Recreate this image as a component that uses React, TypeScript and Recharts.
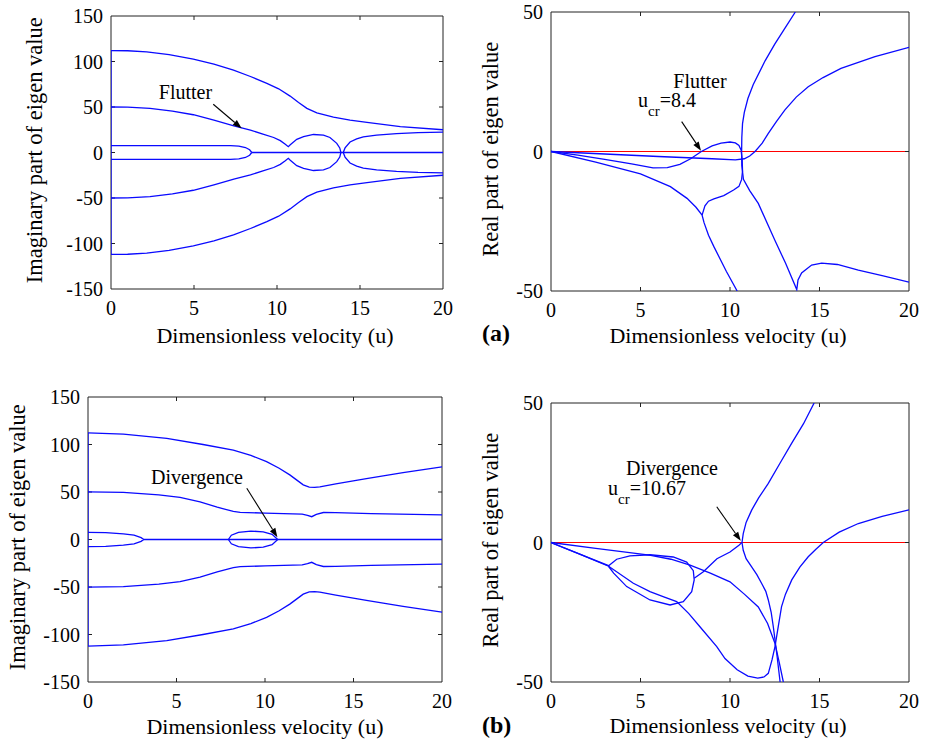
import React from "react";
import {
  LineChart,
  Line,
  XAxis,
  YAxis,
  ReferenceLine,
  ReferenceArea,
} from "recharts";

type P = [number, number][];

const xTicks = [0, 5, 10, 15, 20];
const imagTicks = [-150, -100, -50, 0, 50, 100, 150];
const realTicks = [-50, 0, 50];

// (a) imaginary part
const aImTop: P = [[0, 112], [1, 111.8], [2.15, 110.5], [3.5, 107.5], [4.96, 102.5], [6.2, 97], [7.38, 90.5], [8.4, 83.5], [9.39, 76], [10.1, 70], [10.79, 62], [11.3, 55], [11.8, 48.5], [12.4, 43.5], [13.4, 38.8], [14.4, 35.5], [15.42, 33], [17.43, 28.5], [20, 25]];
const aImBot: P = [[0, -112], [1, -111.8], [2.15, -110.5], [3.5, -107.5], [4.96, -102.5], [6.2, -97], [7.38, -90.5], [8.4, -83.5], [9.39, -76], [10.1, -70], [10.79, -62], [11.3, -55], [11.8, -48.5], [12.4, -43.5], [13.4, -38.8], [14.4, -35.5], [15.42, -33], [17.43, -28.5], [20, -25]];
const aImMid: P = [[0, 50], [1, 49.8], [2.35, 48.4], [3.7, 45.5], [4.96, 41.5], [6.2, 35.5], [7.4, 29.2], [8.4, 24.5], [9.2, 20], [9.8, 16.5], [10.2, 13], [10.5, 9], [10.68, 6.4], [10.8, 8.5], [11.19, 14.5], [11.6, 17.5], [12.2, 19.8], [12.8, 19], [13.19, 16.5], [13.6, 10.1], [13.78, 5], [13.85, 0]];
const aImMidNeg: P = [[0, -50], [1, -49.8], [2.35, -48.4], [3.7, -45.5], [4.96, -41.5], [6.2, -35.5], [7.4, -29.2], [8.4, -24.5], [9.2, -20], [9.8, -16.5], [10.2, -13], [10.5, -9], [10.68, -6.4], [10.8, -8.5], [11.19, -14.5], [11.6, -17.5], [12.2, -19.8], [12.8, -19], [13.19, -16.5], [13.6, -10.1], [13.78, -5], [13.85, 0]];
const aImLate: P = [[13.99, 0], [14.1, 5], [14.4, 11.5], [14.8, 15], [15.2, 17.2], [16, 19.2], [17.2, 20.8], [18.5, 21.8], [20, 22.3]];
const aImLateNeg: P = [[13.99, 0], [14.1, -5], [14.4, -11.5], [14.8, -15], [15.2, -17.2], [16, -19.2], [17.2, -20.8], [18.5, -21.8], [20, -22.3]];
const aImLow: P = [[0, 7.5], [3, 7.5], [6, 7.6], [7.2, 7.6], [7.7, 7], [8.1, 5.5], [8.35, 3], [8.48, 0]];
const aImLowNeg: P = [[0, -7.5], [3, -7.5], [6, -7.6], [7.2, -7.6], [7.7, -7], [8.1, -5.5], [8.35, -3], [8.48, 0]];
const aImZero: P = [[8.48, 0], [20, 0]];
const aImStart: P = [[0, -112], [0, 112]];

// (a) real part
const aReFlutter: P = [[0, 0], [1.5, -1.3], [3, -2.8], [4.5, -4.4], [5.7, -5.9], [6.5, -5.8], [7.2, -4.6], [7.8, -2.6], [8.4, 0], [9, 2], [9.5, 3], [10, 3.4], [10.3, 3.1], [10.5, 2.2], [10.62, 0.5], [10.68, -3], [10.7, -7], [10.65, -10], [10.5, -12.5], [10.2, -13.8], [9.65, -15.8], [9.1, -17], [8.8, -17.8], [8.6, -19.5], [8.44, -22.8]];
const aReSteep: P = [[0, 0], [2.5, -3.8], [5, -8], [6.67, -12.6], [7.6, -16.8], [8.1, -20], [8.44, -22.8], [8.55, -25.5], [8.8, -30], [9.1, -34.1], [9.8, -43], [10.4, -50]];
const aReFlat: P = [[0, 0], [3, -0.9], [6, -1.8], [9, -2.6], [10.3, -3], [10.8, -2.6], [11.1, -1.6], [11.4, 0], [11.8, 3], [12.14, 6.5], [12.6, 10.8], [13.07, 14.9], [13.7, 19.5], [14.37, 23.2], [15.2, 26.5], [16.2, 29.8], [18.1, 34], [20, 37.3]];
const aReCross: P = [[13.65, 50], [13, 43.5], [12.5, 38.5], [11.96, 32.5], [11.3, 24], [11, 19], [10.8, 14], [10.7, 10], [10.66, 5], [10.65, 0], [10.66, -5], [10.75, -10], [11.1, -14], [11.58, -18.6], [12.5, -31.7], [13.1, -40], [13.73, -49.5], [13.8, -46], [14, -43.5], [14.56, -40.7], [15.12, -40], [16, -40.5], [17.17, -42.5], [18.5, -44.5], [20, -46.8]];

// (b) imaginary part
const bImTop: P = [[0, 112.2], [2, 111], [4.45, 106.5], [6.5, 100], [8.21, 94], [9.2, 88.5], [10.09, 82], [10.8, 75], [11.4, 68], [11.8, 62.5], [12.16, 57.5], [12.5, 55.2], [12.8, 54.8], [13.1, 55.5], [14, 58.5], [15.73, 64], [17.8, 70.5], [20, 76.5]];
const bImBot: P = [[0, -112.2], [2, -111], [4.45, -106.5], [6.5, -100], [8.21, -94], [9.2, -88.5], [10.09, -82], [10.8, -75], [11.4, -68], [11.8, -62.5], [12.16, -57.5], [12.5, -55.2], [12.8, -54.8], [13.1, -55.5], [14, -58.5], [15.73, -64], [17.8, -70.5], [20, -76.5]];
const bImMid: P = [[0, 50.2], [2, 49.5], [4, 47], [5.2, 44.4], [6.33, 39.7], [7.3, 34], [8.21, 29.5], [8.6, 28.6], [10, 27.8], [12.1, 26.8], [12.4, 25.5], [12.64, 24], [12.9, 26.5], [13.3, 28.4], [14, 28.2], [16, 27.2], [20, 26]];
const bImMidNeg: P = [[0, -50.2], [2, -49.5], [4, -47], [5.2, -44.4], [6.33, -39.7], [7.3, -34], [8.21, -29.5], [8.6, -28.6], [10, -27.8], [12.1, -26.8], [12.4, -25.5], [12.64, -24], [12.9, -26.5], [13.3, -28.4], [14, -28.2], [16, -27.2], [20, -26]];
const bImLow: P = [[0, 7.5], [1, 7.3], [2, 6], [2.6, 4.5], [3, 2], [3.15, 0], [3, -2], [2.6, -4.5], [2, -6], [1, -7.3], [0, -7.5]];
const bImBubble: P = [[7.93, 0], [8.1, 4.5], [8.5, 7.5], [9.2, 8.9], [9.9, 8], [10.4, 5.5], [10.72, 0], [10.4, -5.5], [9.9, -8], [9.2, -8.9], [8.5, -7.5], [8.1, -4.5], [7.93, 0]];
const bImZero: P = [[3.15, 0], [20, 0]];
const bImStart: P = [[0, -112.2], [0, 112.2]];

// (b) real part
const bReUpper: P = [[0, 0], [2.5, -2.1], [5.5, -4.5], [6.7, -6], [7.77, -8.1], [8.9, -11], [10, -14.1], [10.8, -18.5], [11.58, -23.1], [12.1, -29], [12.51, -36.1], [12.75, -43], [12.98, -50]];
const bReLoop: P = [[0, 0], [3.22, -8.3], [3.67, -6], [4.41, -4.8], [5.53, -4.4], [6.83, -5.2], [7.58, -7], [7.95, -10.1], [8, -13.4], [7.86, -17.6], [7.39, -21.2], [6.65, -22.4], [5.53, -20.6], [4.23, -15.8], [3.5, -11], [3.22, -8.6]];
const bReLower: P = [[0, 0], [1.6, -4.2], [3.22, -8.5], [4.6, -14.6], [5.53, -17.6], [6.3, -19.5], [7.02, -21.2], [7.7, -25.5], [8.32, -30.2], [9.26, -37.3], [9.72, -41.6], [10.4, -45.6], [11, -47.9], [11.55, -48.6], [11.9, -48.2], [12.14, -46.9], [12.35, -42], [12.51, -37.4], [12.7, -30], [12.88, -23], [13.1, -18.5], [13.45, -13.4], [13.9, -8.8], [14.37, -5.1], [14.8, -2.4], [15.21, 0], [16.1, 3.7], [17.17, 6.8], [18.5, 9.4], [20, 11.7]];
const bReRise: P = [[8, -12.8], [8.51, -10.5], [9.27, -5.8], [10, -3.4], [10.5, -1], [10.67, 0], [10.74, 3.2], [10.9, 7.2], [11.21, 11.6], [11.6, 16], [12.14, 21.2], [12.8, 28.5], [13.45, 35.6], [14.1, 42.5], [14.7, 50]];
const bReFall: P = [[10.67, 0], [10.74, -2.8], [10.9, -5.8], [11.21, -8.7], [11.5, -11.5], [11.77, -14.7], [12, -17.5], [12.14, -20.6], [12.3, -25], [12.42, -30.2], [12.61, -39.7], [12.8, -50]];

const pts = (a: P) => a.map(([u, v]) => ({ u, v }));

const FONT = "'Liberation Serif', serif";
const BLUE = "#0a0aff";
const EDGE = "#222";

const ArrowShape = (props: any) => {
  const { x1, y1, x2, y2 } = props;
  const ang = Math.atan2(y2 - y1, x2 - x1);
  const L = 9;
  const W = 3.2;
  const bx = x2 - L * Math.cos(ang);
  const by = y2 - L * Math.sin(ang);
  const p1 = `${bx - W * Math.sin(ang)},${by + W * Math.cos(ang)}`;
  const p2 = `${bx + W * Math.sin(ang)},${by - W * Math.cos(ang)}`;
  return (
    <g>
      <line x1={x1} y1={y1} x2={bx} y2={by} stroke="#000" strokeWidth={1.1} />
      <polygon points={`${x2},${y2} ${p1} ${p2}`} fill="#000" />
    </g>
  );
};

interface PanelProps {
  left: number;
  top: number;
  width: number;
  height: number;
  plot: [number, number, number, number];
  yDomain: [number, number];
  yTicks: number[];
  blue: P[];
  redZero?: boolean;
  arrow: [[number, number], [number, number]];
}

function Panel({ left, top, width, height, plot, yDomain, yTicks, blue, redZero, arrow }: PanelProps) {
  const [x0, y0, x1, y1] = plot;
  const pxY = (yDomain[1] - yDomain[0]) / (y1 - y0);
  const tlY = 4 * pxY;
  const tlX = (4 * 20) / (x1 - x0);
  const tickStyle = { fontSize: 20, fill: "#000", fontFamily: FONT };
  return (
    <div style={{ position: "absolute", left, top, width, height }}>
      <LineChart
        width={width}
        height={height}
        margin={{ top: y0, right: width - x1, left: 0, bottom: height - y1 - 40 }}
      >
        <XAxis
          dataKey="u"
          type="number"
          domain={[0, 20]}
          ticks={xTicks}
          interval={0}
          allowDataOverflow
          axisLine={false}
          tickLine={false}
          tickSize={6}
          tickMargin={6}
          height={40}
          tick={tickStyle}
        />
        <YAxis
          dataKey="v"
          type="number"
          domain={yDomain}
          ticks={yTicks}
          interval={0}
          allowDataOverflow
          axisLine={false}
          tickLine={false}
          width={x0}
          tick={tickStyle}
        />
        <ReferenceArea x1={0} x2={20} y1={yDomain[0]} y2={yDomain[1]} fill="none" stroke={EDGE} strokeWidth={1} />
        {xTicks.slice(1, -1).map((t) => (
          <ReferenceLine key={`xb${t}`} segment={[{ x: t, y: yDomain[0] }, { x: t, y: yDomain[0] + tlY }]} stroke={EDGE} />
        ))}
        {xTicks.slice(1, -1).map((t) => (
          <ReferenceLine key={`xt${t}`} segment={[{ x: t, y: yDomain[1] }, { x: t, y: yDomain[1] - tlY }]} stroke={EDGE} />
        ))}
        {yTicks.slice(1, -1).map((t) => (
          <ReferenceLine key={`yl${t}`} segment={[{ x: 0, y: t }, { x: tlX, y: t }]} stroke={EDGE} />
        ))}
        {yTicks.slice(1, -1).map((t) => (
          <ReferenceLine key={`yr${t}`} segment={[{ x: 20, y: t }, { x: 20 - tlX, y: t }]} stroke={EDGE} />
        ))}
        {blue.map((s, i) => (
          <Line
            key={i}
            data={pts(s)}
            dataKey="v"
            stroke={BLUE}
            strokeWidth={1.3}
            dot={false}
            activeDot={false}
            isAnimationActive={false}
          />
        ))}
        {redZero && (
          <ReferenceArea
            x1={0}
            x2={20}
            y1={-0.55 * pxY}
            y2={0.55 * pxY}
            fill="#ff0000"
            fillOpacity={1}
            stroke="none"
          />
        )}
        <ReferenceLine
          segment={[{ x: arrow[0][0], y: arrow[0][1] }, { x: arrow[1][0], y: arrow[1][1] }]}
          shape={ArrowShape}
        />
      </LineChart>
    </div>
  );
}

// text placed by baseline; line-height equals font size
const Txt = ({ x, base, size, children, center, bold }: any) => {
  const topPx = base - 0.8375 * size;
  const style: React.CSSProperties = {
    position: "absolute",
    top: topPx,
    fontSize: size,
    lineHeight: `${size}px`,
    whiteSpace: "nowrap",
    fontWeight: bold ? "bold" : "normal",
    color: "#000",
  };
  if (center) {
    style.left = x - 200;
    style.width = 400;
    style.textAlign = "center";
  } else {
    style.left = x;
  }
  return <div style={style}>{children}</div>;
};

const VTxt = ({ base, cy, children }: any) => {
  const size = 22.5;
  const cx = base - 0.8375 * size + size / 2;
  return (
    <div
      style={{
        position: "absolute",
        left: cx - 160,
        top: cy - size / 2,
        width: 320,
        height: size,
        fontSize: size,
        lineHeight: `${size}px`,
        textAlign: "center",
        whiteSpace: "nowrap",
        transform: "rotate(-90deg)",
        color: "#000",
      }}
    >
      {children}
    </div>
  );
};

const Sub = ({ children }: any) => (
  <span style={{ fontSize: 15, position: "relative", top: 9 }}>{children}</span>
);

export default function App() {
  return (
    <div
      style={{
        position: "absolute",
        left: 0,
        top: 0,
        width: 933,
        height: 741,
        background: "#fff",
        fontFamily: FONT,
        overflow: "hidden",
      }}
    >
      <Panel
        left={0}
        top={0}
        width={470}
        height={370}
        plot={[111, 16, 443, 289]}
        yDomain={[-150, 150]}
        yTicks={imagTicks}
        blue={[aImStart, aImTop, aImBot, aImMid, aImMidNeg, aImLate, aImLateNeg, aImLow, aImLowNeg, aImZero]}
        arrow={[[6.16, 53], [7.87, 26.6]]}
      />
      <Panel
        left={470}
        top={0}
        width={463}
        height={371}
        plot={[81, 12, 439, 291]}
        yDomain={[-50, 50]}
        yTicks={realTicks}
        redZero
        blue={[aReFlutter, aReSteep, aReFlat, aReCross]}
        arrow={[[7.3, 10.7], [8.38, 0.3]]}
      />
      <Panel
        left={0}
        top={370}
        width={470}
        height={371}
        plot={[88, 27, 442, 312]}
        yDomain={[-150, 150]}
        yTicks={imagTicks}
        blue={[bImStart, bImTop, bImBot, bImMid, bImMidNeg, bImLow, bImBubble, bImZero]}
        arrow={[[8.97, 54], [10.7, 2.5]]}
      />
      <Panel
        left={470}
        top={370}
        width={463}
        height={371}
        plot={[81, 33, 439, 312]}
        yDomain={[-50, 50]}
        yTicks={realTicks}
        redZero
        blue={[bReUpper, bReLoop, bReLower, bReRise, bReFall]}
        arrow={[[9.26, 12.8], [10.6, 0.6]]}
      />

      <VTxt base={43} cy={150}>Imaginary part of eigen value</VTxt>
      <VTxt base={499} cy={149}>Real part of eigen value</VTxt>
      <VTxt base={26} cy={537}>Imaginary part of eigen value</VTxt>
      <VTxt base={499} cy={540}>Real part of eigen value</VTxt>

      <Txt x={275} base={343} size={22} center>Dimensionless velocity (u)</Txt>
      <Txt x={728} base={343} size={22} center>Dimensionless velocity (u)</Txt>
      <Txt x={265} base={734} size={22} center>Dimensionless velocity (u)</Txt>
      <Txt x={728} base={733} size={22} center>Dimensionless velocity (u)</Txt>

      <Txt x={482} base={341} size={24} bold>(a)</Txt>
      <Txt x={482} base={733} size={24} bold>(b)</Txt>

      <Txt x={185.5} base={99} size={20} center>Flutter</Txt>
      <Txt x={700} base={88} size={20} center>Flutter</Txt>
      <Txt x={638} base={107} size={20}>u<Sub>cr</Sub>=8.4</Txt>

      <Txt x={197} base={484} size={20} center>Divergence</Txt>
      <Txt x={672} base={474.5} size={20} center>Divergence</Txt>
      <Txt x={608} base={495} size={20}>u<Sub>cr</Sub>=10.67</Txt>
    </div>
  );
}
